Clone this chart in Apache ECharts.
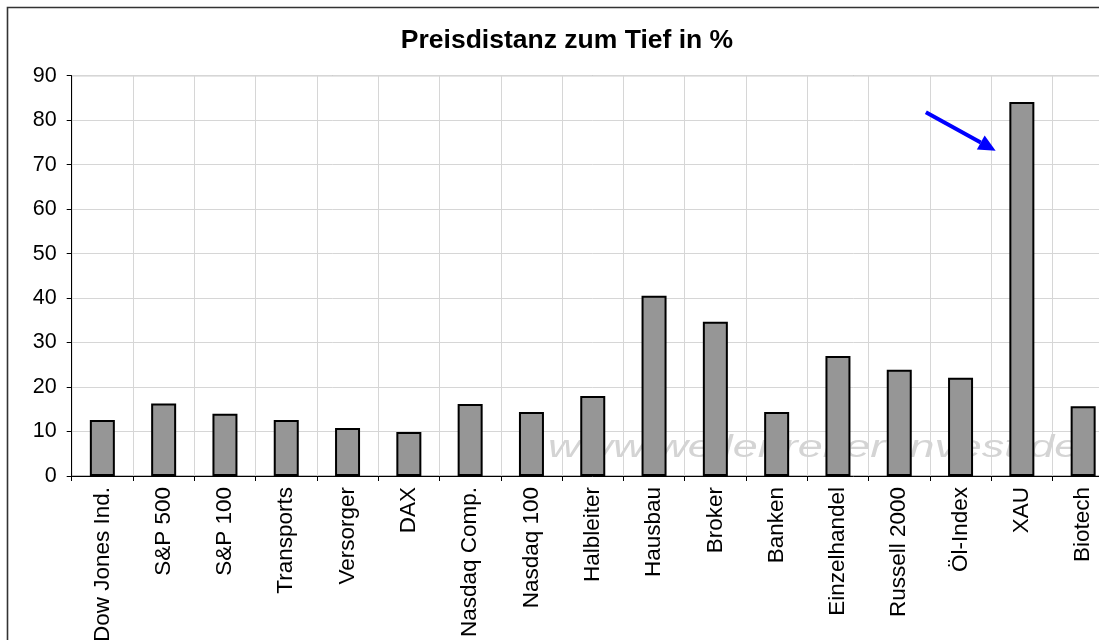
<!DOCTYPE html>
<html><head><meta charset="utf-8">
<script src="https://cdn.jsdelivr.net/npm/echarts@6/dist/echarts.min.js"></script>
<style>
html,body{margin:0;padding:0;overflow:hidden;background:#fff;width:1099px;height:640px}
#wrap{width:1099px;height:640px;overflow:hidden;position:relative;background:#fff}
#chart{width:1120px;height:720px;position:absolute;left:0;top:0}
</style></head><body><div id="wrap"><div id="chart"></div></div>
<script>
// ---- data ----
const categories = ['Dow Jones Ind.','S&P 500','S&P 100','Transports','Versorger','DAX','Nasdaq Comp.','Nasdaq 100','Halbleiter','Hausbau','Broker','Banken','Einzelhandel','Russell 2000','Öl-Index','XAU','Biotech'];
const values = [12.6,16.3,14.0,12.6,10.8,9.9,16.2,14.4,18.0,40.5,34.7,14.4,27.0,23.9,22.1,84.1,15.7];
const yMin = 0, yMax = 90, yStep = 10;
const titleText = 'Preisdistanz zum Tief in %';
const watermarkText = 'www.wellenreiter-invest.de';
const highlighted = 'XAU';

// ---- layout ----
const FONT = '"Liberation Sans", Arial, sans-serif';
const titleSize = 26.5;
const titleCenterX = 567;

function textWidth(txt, font){
  const c = document.createElement('canvas').getContext('2d');
  c.font = font; return c.measureText(txt).width;
}
const tw = textWidth(titleText, 'bold ' + titleSize + 'px "Liberation Sans", Arial');

const chart = echarts.init(document.getElementById('chart'), null, {renderer:'canvas'});

const option = {
  animation:false,
  backgroundColor:'#fff',
  title:{
    text:titleText, left: titleCenterX - tw/2, top:27.5, padding:0,
    textStyle:{fontFamily:FONT, fontSize:titleSize, fontWeight:'bold', color:'#000'}
  },
  grid:{left:71.7, right:6.2, top:75.7, bottom:244, show:true, borderColor:'#7a7a7a', borderWidth:1, backgroundColor:'transparent'},
  xAxis:{
    type:'category', data:categories, boundaryGap:true,
    axisLine:{show:true, lineStyle:{color:'#000', width:1}},
    axisTick:{show:true, interval:0, length:5, lineStyle:{color:'#000'}},
    axisLabel:{interval:0, rotate:90, margin:11, fontSize:22.5, color:'#000', fontFamily:FONT},
    splitLine:{show:true, interval:0, lineStyle:{color:'#d6d6d6', width:1}}
  },
  yAxis:{
    type:'value', min:yMin, max:yMax, interval:yStep,
    axisLine:{show:true, lineStyle:{color:'#000', width:1}},
    axisTick:{show:true, length:5, lineStyle:{color:'#000'}},
    axisLabel:{color:'#000', fontSize:21.5, fontFamily:FONT, margin:15},
    splitLine:{show:true, lineStyle:{color:'#d6d6d6', width:1}}
  },
  series:[{
    type:'bar', data:values, barWidth:25, z:3,
    itemStyle:{color:'#969696', borderColor:'#000', borderWidth:2}
  }],
  graphic:[]
};
chart.setOption(option);

// annotations anchored to the highlighted bar
const idx = categories.indexOf(highlighted);
const p = chart.convertToPixel({gridIndex:0}, [idx, values[idx]]);
const ax = p[0], ay = p[1];
const d = (dx, dy) => [ax + dx, ay + dy];
const s0 = d(-96, 10.3), bc = d(-41.1, 40.6), tip = d(-26.2, 48.8), b1 = d(-45, 47.6), b2 = d(-37.2, 33.6);

chart.setOption({graphic:[
  {type:'text', id:'wm', x:548, y:448, scaleX:1.45, z:1, silent:true,
   style:{text:watermarkText, font:'italic 31px "Liberation Sans", Arial, sans-serif', fill:'#d4d4d4', textVerticalAlign:'middle', textAlign:'left'}},
  {type:'rect', id:'frame', z:10, silent:true, shape:{x:7.5, y:7.5, width:3000, height:3000},
   style:{fill:'none', stroke:'#333', lineWidth:1.6}},
  {type:'line', id:'arrowLine', z:10, silent:true, shape:{x1:s0[0], y1:s0[1], x2:bc[0], y2:bc[1]},
   style:{stroke:'#0000ff', lineWidth:4}},
  {type:'polygon', id:'arrowHead', z:10, silent:true, shape:{points:[tip, b1, b2]},
   style:{fill:'#0000ff'}}
]});
</script></body></html>
